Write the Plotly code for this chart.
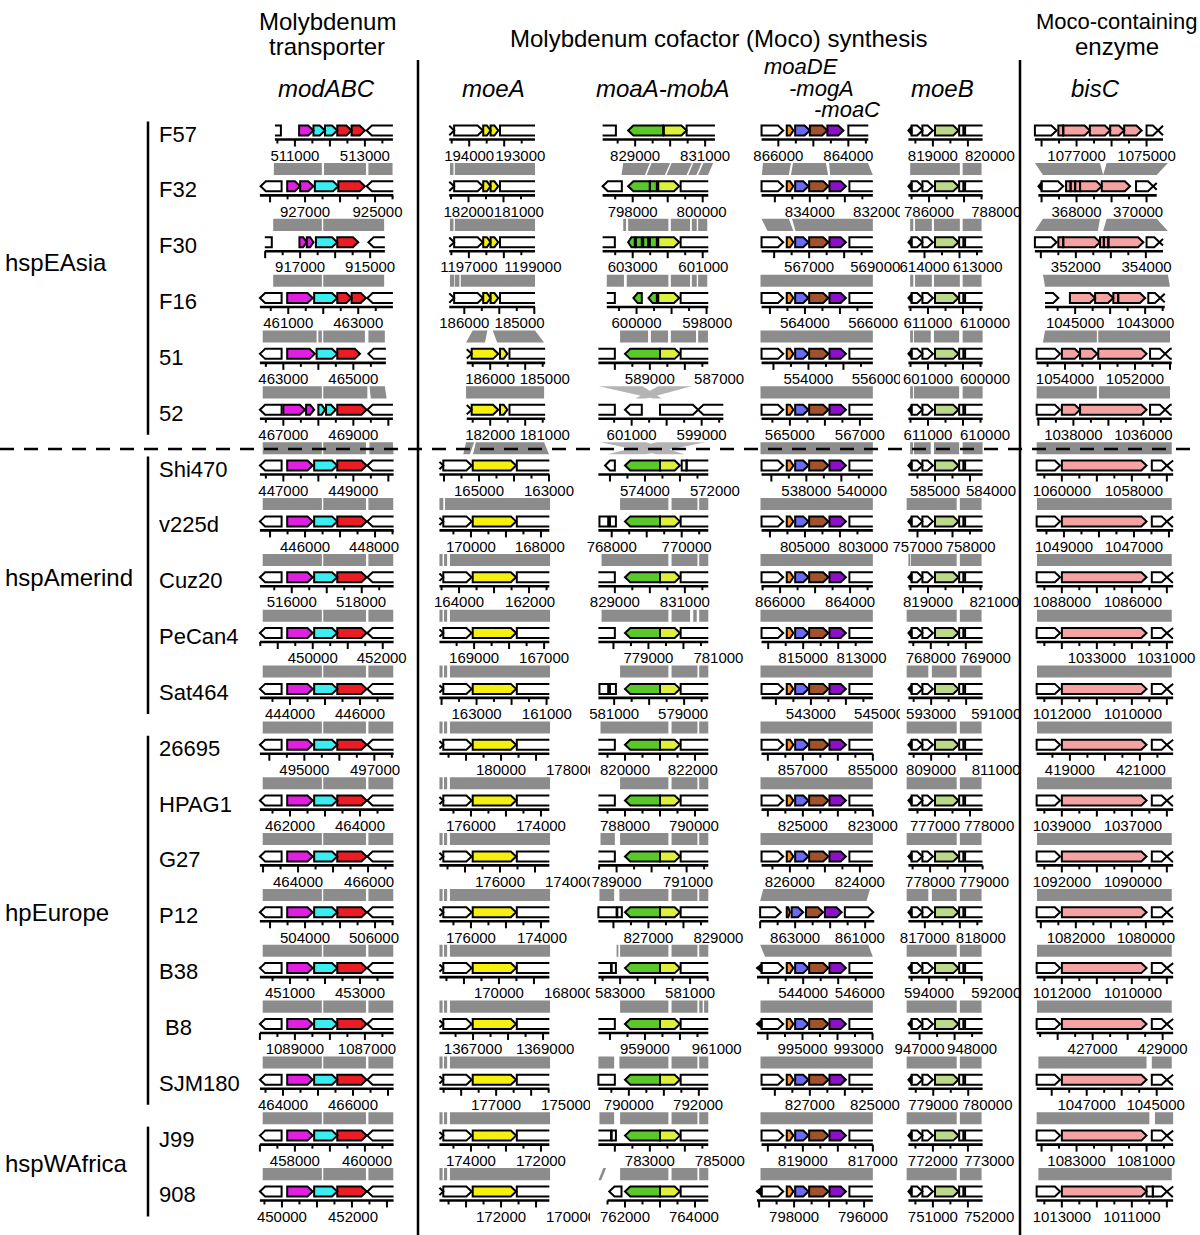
import math
import plotly.graph_objects as go

# ------------------------------------------------------------------ data
STRAINS = ["F57", "F32", "F30", "F16", "51", "52", "Shi470", "v225d", "Cuz20", "PeCan4",
           "Sat464", "26695", "HPAG1", "G27", "P12", "B38", "\u00a0B8", "SJM180", "J99", "908"]
GROUP_NAMES = ["hspEAsia", "hspAmerind", "hpEurope", "hspWAfrica"]
GROUP_ROWS = [(0, 5), (6, 10), (11, 17), (18, 19)]

GENE_COLORS = {'W': '#ffffff', 'M': '#e31ee3', 'C': '#3aeef0', 'R': '#ec1c24', 'Y': '#f5f00f',
               'G': '#5bc82a', 'L': '#dcf03c', 'O': '#f7941d', 'B': '#6a6af5', 'N': '#a0522d',
               'P': '#8c10c8', 'E': '#bcd88a', 'K': '#f4a2a2', 'X': '#000000'}

# genes: (start_kb, end_kb, strand, colour key), kb measured from each panel's left edge
# ---- modABC
MODABC_TPL = [(0.14, 0.76, -1, 'W'), (0.92, 1.65, 1, 'M'), (1.69, 2.35, 1, 'C'), (2.35, 3.19, 1, 'R'), (3.21, 4.5, -1, 'W')]
MODABC_GENES = [
    [(-0.5, 0.74, -1, 'W'), (1.26, 1.67, 1, 'M'), (1.67, 2.0, 1, 'C'), (2.0, 2.35, 1, 'C'), (2.35, 2.76, 1, 'R'), (2.76, 3.14, 1, 'R'), (3.19, 4.5, -1, 'W')],
    [(0.16, 0.76, -1, 'W'), (0.92, 1.29, 1, 'M'), (1.29, 1.67, 1, 'M'), (1.71, 2.38, 1, 'C'), (2.38, 3.14, 1, 'R'), (3.19, 4.5, -1, 'W')],
    [(-0.5, 0.48, -1, 'W'), (1.27, 1.48, 1, 'M'), (1.48, 1.67, 1, 'M'), (1.74, 2.35, 1, 'C'), (2.35, 2.95, 1, 'R'), (3.24, 4.5, -1, 'W')],
    [(0.14, 0.76, -1, 'W'), (0.92, 1.65, 1, 'M'), (1.69, 2.35, 1, 'C'), (2.35, 2.76, 1, 'R'), (2.76, 3.17, 1, 'R'), (3.21, 4.5, -1, 'W')],
    [(0.14, 0.76, -1, 'W'), (0.92, 1.71, 1, 'M'), (1.76, 2.35, 1, 'C'), (2.35, 3.0, 1, 'R'), (3.24, 4.5, -1, 'W')],
    [(0.14, 0.76, -1, 'W'), (0.81, 1.43, 1, 'M'), (1.46, 1.69, 1, 'M'), (1.81, 2.0, 1, 'C'), (2.03, 2.31, 1, 'C'), (2.35, 3.19, 1, 'R'), (3.21, 4.5, -1, 'W')],
] + [MODABC_TPL] * 14
MODABC_AXIS = [(0.57, 3.94), (0.14, 3.95), (0.28, 3.71), (0.14, 3.94), (0.14, 3.74), (0.14, 3.94)] + [(0.14, 3.96)] * 14
MODABC_LABELS = [(511000, 513000), (927000, 925000), (917000, 915000), (461000, 463000), (463000, 465000),
                 (467000, 469000), (447000, 449000), (446000, 448000), (516000, 518000), (450000, 452000),
                 (444000, 446000), (495000, 497000), (462000, 464000), (464000, 466000), (504000, 506000),
                 (451000, 453000), (1089000, 1087000), (464000, 466000), (458000, 460000), (450000, 452000)]
MODABC_LABPOS = [(1.14, 3.14), (1.43, 3.5), (1.29, 3.29), (0.95, 2.95), (0.81, 2.81), (0.81, 2.81), (0.81, 2.81),
                 (1.43, 3.4), (1.05, 3.03), (1.65, 3.62), (1.0, 3.0), (1.41, 3.43), (1.0, 3.0), (1.23, 3.26),
                 (1.43, 3.4), (1.0, 3.0), (1.14, 3.2), (0.8, 2.8), (1.14, 3.2), (0.77, 2.8)]
MODABC_BANDS = [
    [(0.54, 1.91), (1.97, 3.17), (3.24, 3.93)],
    [(0.52, 1.91), (1.95, 3.69)],
    [(0.52, 1.91), (1.95, 3.69)],
    [(0.22, 1.76), (1.81, 1.91), (1.95, 3.14), (3.24, 3.71)],
    [(0.22, 1.91), (1.95, 3.21), (3.27, 3.71, 3.31, 3.76)],
    [(0.22, 1.91), (1.95, 3.17), (3.27, 3.94, 3.27, 3.96)],
] + [[(0.22, 1.91), (1.95, 3.17), (3.24, 3.95)]] * 13

# ---- moeA
MOEA_EARLY = [(-0.5, 0.69, 1, 'W'), (0.69, 1.51, 1, 'W'), (1.52, 1.73, 1, 'Y'), (1.73, 1.95, 1, 'Y'), (2.0, 3.5, 1, 'W')]
MOEA_MID = [(0.5, 1.19, 1, 'W'), (1.19, 1.95, 1, 'Y'), (2.0, 2.21, 1, 'Y'), (2.27, 3.8, 1, 'W')]
MOEA_TPL = [(-0.5, 0.38, 1, 'W'), (0.38, 1.19, 1, 'W'), (1.22, 2.46, 1, 'Y'), (2.48, 4.0, 1, 'W')]
MOEA_GENES = [MOEA_EARLY] * 4 + [MOEA_MID] * 2 + [MOEA_TPL] * 14
MOEA_AXIS = [(0.55, 3.0)] * 4 + [(1.05, 3.29)] * 2 + [(0.27, 3.41)] * 14
MOEA_LABELS = [(194000, 193000), (182000, 181000), (1197000, 1199000), (186000, 185000), (186000, 185000),
               (182000, 181000), (165000, 163000), (170000, 168000), (164000, 162000), (169000, 167000),
               (163000, 161000), (180000, 178000), (176000, 174000), (176000, 174000), (176000, 174000),
               (170000, 168000), (1367000, 1369000), (177000, 175000), (174000, 172000), (172000, 170000)]
MOEA_LABPOS = [(1.12, 2.58), (1.1, 2.54), (1.11, 2.94), (0.98, 2.56), (1.72, 3.28), (1.72, 3.28), (1.4, 3.4),
               (1.17, 3.14), (0.83, 2.86), (1.26, 3.26), (1.33, 3.34), (2.03, 4.03), (1.17, 3.17), (2.0, 4.0),
               (1.17, 3.2), (1.97, 3.97), (1.23, 3.29), (1.89, 3.89), (1.17, 3.17), (2.03, 4.03)]
MOEA_BANDS = [
    [(0.57, 0.67), (0.71, 3.0)],
    [(0.57, 0.67), (0.71, 3.0)],
    [(0.57, 0.69), (0.71, 0.84), (0.88, 3.0)],
    [(1.22, 1.64, 1.03, 1.57), (1.79, 3.0, 1.92, 3.26)],
    [(1.03, 3.26)],
    [(1.03, 1.26, 0.95, 1.14), (1.31, 3.26, 1.23, 3.4)],
    [(0.27, 0.38), (0.43, 3.43)],
] + [[(0.27, 0.36), (0.4, 0.49), (0.57, 3.43)]] * 12

# ---- moaA-mobA
MOAA_CORE = [(1.0, 2.0, -1, 'G'), (2.0, 2.57, 1, 'L'), (2.59, 4.0, 1, 'W')]
MOAA_TPL = [(-0.5, 0.71, -1, 'W')] + MOAA_CORE
MOAA_GENES = [
    [(-0.5, 0.74, -1, 'W'), (1.09, 2.09, -1, 'G'), (2.11, 2.76, 1, 'L'), (2.76, 4.5, 1, 'W')],
    [(0.36, 0.91, -1, 'W'), (1.09, 1.71, -1, 'G'), (1.71, 1.91, 0, 'G'), (1.95, 2.55, 1, 'L'), (2.59, 4.0, 1, 'W')],
    [(-0.5, 0.71, -1, 'W'), (1.09, 1.28, -1, 'G'), (1.31, 1.48, 0, 'G'), (1.52, 1.66, 0, 'G'), (1.71, 1.91, 0, 'G'), (1.95, 2.55, 1, 'L'), (2.59, 4.0, 1, 'W')],
    [(-0.5, 0.71, -1, 'W'), (1.24, 1.48, -1, 'G'), (1.67, 1.91, -1, 'G'), (1.95, 2.55, 1, 'L'), (2.59, 4.0, 1, 'W')],
    MOAA_TPL,
    [(-0.5, 0.71, -1, 'W'), (1.0, 1.48, -1, 'W'), (2.0, 3.09, 1, 'W'), (3.09, 4.5, -1, 'W')],
    [(0.43, 0.71, -1, 'W'), (1.0, 2.0, -1, 'G'), (2.0, 2.57, 1, 'L'), (2.62, 2.76, 0, 'W'), (2.76, 4.0, 1, 'W')],
    [(0.27, 0.52, 0, 'W'), (0.57, 0.74, 0, 'W')] + MOAA_CORE,
    MOAA_TPL,
    MOAA_TPL,
    [(0.27, 0.52, 0, 'W'), (0.57, 0.74, 0, 'W')] + MOAA_CORE,
    MOAA_TPL,
    MOAA_TPL,
    MOAA_TPL,
    [(0.24, 0.76, 0, 'W'), (0.78, 0.91, 0, 'W')] + MOAA_CORE,
    [(-0.5, 0.6, -1, 'W'), (0.62, 0.74, 0, 'W')] + MOAA_CORE,
    MOAA_TPL,
    [(0.24, 0.71, 0, 'W')] + MOAA_CORE,
    [(-0.5, 0.6, -1, 'W'), (0.62, 0.74, 0, 'W')] + MOAA_CORE,
    [(0.55, 0.9, -1, 'W')] + MOAA_CORE,
]
MOAA_AXIS = [(0.36, 3.57), (0.36, 3.38), (0.36, 3.38), (0.48, 3.38), (0.24, 3.38), (0.24, 3.81)] + [(0.24, 3.38)] * 13 + [(0.5, 3.38)]
MOAA_LABELS = [(829000, 831000), (798000, 800000), (603000, 601000), (600000, 598000), (589000, 587000),
               (601000, 599000), (574000, 572000), (768000, 770000), (829000, 831000), (779000, 781000),
               (581000, 579000), (820000, 822000), (788000, 790000), (789000, 791000), (827000, 829000),
               (583000, 581000), (959000, 961000), (790000, 792000), (783000, 785000), (762000, 764000)]
MOAA_LABPOS = [(1.29, 3.29), (1.22, 3.19), (1.22, 3.24), (1.33, 3.35), (1.71, 3.69), (1.19, 3.19), (1.57, 3.57),
               (0.62, 2.76), (0.71, 2.71), (1.67, 3.67), (0.69, 2.66), (1.0, 2.94), (1.0, 2.97), (0.76, 2.8),
               (1.67, 3.67), (0.86, 2.86), (1.57, 3.62), (1.11, 3.09), (1.71, 3.71), (1.0, 2.97)]
# 4-tuples: (top start, top end, bottom start, bottom end); 5th item 'x' marks a crossing (inverted) link
MOAA_BANDS = [
    [(0.95, 1.71, 0.9, 1.57), (1.76, 2.29, 1.62, 2.14), (2.33, 2.91, 2.19, 2.76), (2.95, 3.19, 2.81, 3.04), (3.24, 3.52, 3.09, 3.37)],
    [(0.95, 1.03), (1.09, 2.24), (2.31, 2.86), (2.91, 3.05), (3.09, 3.35)],
    [(0.48, 0.97), (1.05, 2.24), (2.31, 2.86), (2.91, 3.05), (3.09, 3.35)],
    [(0.86, 1.66), (1.74, 2.23), (2.31, 3.03), (3.09, 3.37)],
    [(0.25, 1.5, 1.8, 2.05, 'x'), (1.95, 2.9, 1.3, 1.6, 'x')],
    [(0.3, 1.6, 1.9, 2.7, 'x'), (1.9, 3.3, 0.5, 1.6, 'x')],
    [(0.86, 2.24), (2.33, 3.07), (3.12, 3.38)],
    [(0.33, 2.24), (2.33, 3.07), (3.12, 3.38)],
    [(0.33, 2.24), (2.33, 2.86), (2.95, 3.05), (3.12, 3.38)],
    [(0.86, 2.24), (2.33, 3.07), (3.12, 3.38)],
    [(0.3, 2.24), (2.33, 3.07), (3.12, 3.38)],
    [(0.86, 2.24), (2.33, 3.07), (3.12, 3.38)],
    [(0.3, 0.71), (0.86, 2.24), (2.33, 3.07), (3.12, 3.38)],
    [(0.27, 0.69), (0.84, 2.24), (2.33, 3.07), (3.12, 3.38)],
    [(0.76, 0.81), (0.86, 2.24), (2.33, 3.07), (3.12, 3.38)],
    [(0.86, 2.24), (2.33, 3.07), (3.12, 3.22), (3.26, 3.38)],
    [(0.24, 0.69), (0.84, 2.24), (2.33, 3.07), (3.12, 3.38)],
    [(0.27, 0.69), (0.86, 2.24), (2.33, 3.07), (3.12, 3.38)],
    [(0.38, 0.46, 0.24, 0.32), (0.86, 2.24), (2.33, 3.07), (3.12, 3.38)],
]

# ---- moaDE-mogA-moaC
MOAD_TPL = [(0.33, 0.95, 1, 'W'), (1.05, 1.24, 1, 'O'), (1.29, 1.67, 1, 'B'), (1.69, 2.24, 1, 'N'), (2.27, 2.74, 1, 'P'), (2.84, 4.0, 1, 'W')]
MOAD_TIP = [(0.2, 0.33, -1, 'X')]
MOAD_GENES = [
    [(0.33, 0.95, 1, 'W'), (1.05, 1.24, 1, 'O'), (1.29, 1.71, 1, 'B'), (1.71, 2.21, 1, 'N'), (2.21, 2.67, 1, 'P'), (2.81, 4.0, 1, 'W')],
] + [MOAD_TPL] * 13 + [
    [(0.29, 0.88, 1, 'W'), (1.05, 1.14, 1, 'O'), (1.19, 1.52, 1, 'B'), (1.6, 2.09, 1, 'N'), (2.14, 2.62, 1, 'P'), (2.71, 3.52, 1, 'W')],
    MOAD_TIP + MOAD_TPL, MOAD_TIP + MOAD_TPL, MOAD_TPL, MOAD_TPL, MOAD_TIP + MOAD_TPL,
]
MOAD_AXIS = [(0.33, 3.38)] + [(0.33, 3.51)] * 13 + [(0.29, 3.55), (0.2, 3.51), (0.2, 3.51), (0.33, 3.51), (0.33, 3.51), (0.2, 3.51)]
MOAD_LABELS = [(866000, 864000), (834000, 832000), (567000, 569000), (564000, 566000), (554000, 556000),
               (565000, 567000), (538000, 540000), (805000, 803000), (866000, 864000), (815000, 813000),
               (543000, 545000), (857000, 855000), (825000, 823000), (826000, 824000), (863000, 861000),
               (544000, 546000), (995000, 993000), (827000, 825000), (819000, 817000), (798000, 796000)]
MOAD_LABPOS = [(0.81, 2.81), (1.71, 3.66), (1.69, 3.58), (1.57, 3.52), (1.67, 3.62), (1.14, 3.14), (1.61, 3.2),
               (1.57, 3.24), (0.86, 2.86), (1.52, 3.19), (1.74, 3.69), (1.51, 3.51), (1.51, 3.51), (1.14, 3.14),
               (1.29, 3.14), (1.52, 3.14), (1.5, 3.1), (1.71, 3.57), (1.51, 3.51), (1.26, 3.23)]
MOAD_BANDS = [
    [(0.37, 1.17, 0.34, 1.11), (1.23, 2.17, 1.17, 2.23), (2.26, 3.37, 2.29, 3.51)],
    [(0.33, 1.11, 0.5, 1.24), (1.2, 3.51, 1.3, 3.51)],
] + [[(0.3, 3.51)]] * 11 + [
    [(0.38, 3.43, 0.29, 3.33)],
    [(0.29, 3.38, 0.43, 3.51)],
] + [[(0.3, 3.51)]] * 4

# ---- moeB
MOEB_TPL = [(0.24, 0.33, -1, 'X'), (0.33, 0.64, 1, 'W'), (0.64, 0.94, 1, 'W'), (1.0, 1.67, 1, 'E'), (1.69, 1.81, 0, 'W'), (1.86, 3.0, 1, 'W')]
MOEB_GENES = [MOEB_TPL] * 20
MOEB_AXIS = [(0.24, 2.36)] * 20
MOEB_LABELS = [(819000, 820000), (786000, 788000), (614000, 613000), (611000, 610000), (601000, 600000),
               (611000, 610000), (585000, 584000), (757000, 758000), (819000, 821000), (768000, 769000),
               (593000, 591000), (809000, 811000), (777000, 778000), (778000, 779000), (817000, 818000),
               (594000, 592000), (947000, 948000), (779000, 780000), (772000, 773000), (751000, 752000)]
MOEB_LABPOS = [(0.94, 2.57), (0.83, 2.75), (0.7, 2.22), (0.8, 2.43), (0.8, 2.43), (0.8, 2.43), (1.0, 2.6),
               (0.5, 2.02), (0.8, 2.7), (0.88, 2.45), (0.89, 2.75), (0.89, 2.75), (1.0, 2.55), (0.86, 2.4),
               (0.71, 2.31), (0.83, 2.75), (0.56, 2.06), (0.95, 2.5), (0.94, 2.55), (0.94, 2.55)]
MOEB_BANDS = [
    [(0.29, 1.71), (1.79, 2.33)],
    [(0.29, 0.38), (0.43, 0.91), (0.97, 1.71), (1.79, 2.33)],
    [(0.29, 0.38), (0.43, 0.91), (0.97, 1.71), (1.79, 2.33)],
    [(0.29, 0.37), (0.4, 0.88), (0.97, 1.69), (1.79, 2.36)],
    [(0.29, 0.37), (0.4, 1.69), (1.79, 2.36)],
    [(0.29, 0.37), (0.4, 0.88), (0.97, 1.69), (1.79, 2.36)],
    [(0.19, 1.62), (1.71, 2.33)],
    [(0.24, 0.29), (0.31, 1.62), (1.71, 2.33)],
    [(0.19, 1.62), (1.71, 2.33)],
    [(0.19, 0.81), (0.91, 1.62), (1.71, 2.33)],
    [(0.19, 1.62), (1.71, 2.33)],
    [(0.19, 1.62), (1.71, 2.33)],
    [(0.19, 1.62), (1.71, 2.33)],
    [(0.19, 0.81), (0.91, 1.62), (1.71, 2.33)],
] + [[(0.19, 1.62), (1.71, 2.33)]] * 5

# ---- bisC
BISC_TPL = [(0.19, 0.86, 1, 'W'), (0.91, 3.33, 1, 'K'), (3.48, 3.91, 1, 'W'), (3.91, 4.5, -1, 'W')]
BISC_GENES = [
    [(0.14, 0.76, 1, 'W'), (0.81, 0.95, 0, 'K'), (0.95, 1.71, 1, 'K'), (1.71, 2.29, 1, 'K'), (2.29, 2.69, 1, 'K'), (2.69, 3.19, 1, 'K'), (3.33, 3.66, 1, 'W'), (3.66, 4.5, -1, 'W')],
    [(0.24, 0.33, -1, 'X'), (0.33, 0.95, 1, 'W'), (1.03, 1.16, 0, 'K'), (1.16, 1.29, 0, 'K'), (1.29, 1.43, 0, 'K'), (1.43, 2.05, 1, 'K'), (2.05, 2.86, 1, 'K'), (3.03, 3.52, 1, 'W'), (3.52, 4.5, -1, 'W')],
    [(0.14, 0.76, 1, 'W'), (0.81, 0.95, 0, 'K'), (0.95, 2.0, 1, 'K'), (2.0, 2.11, 0, 'K'), (2.11, 2.24, 0, 'K'), (2.24, 3.24, 1, 'K'), (3.33, 3.7, 1, 'W'), (3.7, 4.5, -1, 'W')],
    [(-0.5, 0.81, 1, 'W'), (1.14, 1.86, 1, 'K'), (1.86, 2.38, 1, 'K'), (2.38, 2.52, 0, 'K'), (2.52, 3.29, 1, 'K'), (3.38, 3.72, 1, 'W'), (3.72, 4.5, -1, 'W')],
    [(0.19, 0.86, 1, 'W'), (0.91, 1.43, 1, 'K'), (1.43, 1.92, 1, 'K'), (1.95, 3.33, 1, 'K'), (3.43, 3.86, 1, 'W'), (3.86, 4.5, -1, 'W')],
    [(0.19, 0.86, 1, 'W'), (0.91, 1.43, 1, 'K'), (1.43, 3.33, 1, 'K'), (3.43, 3.86, 1, 'W'), (3.86, 4.5, -1, 'W')],
] + [BISC_TPL] * 13 + [
    [(0.19, 0.86, 1, 'W'), (0.91, 3.33, 1, 'K'), (3.33, 3.51, 0, 'W'), (3.51, 3.91, 1, 'W'), (3.91, 4.5, -1, 'W')],
]
BISC_AXIS = [(0.14, 3.8), (0.24, 3.62), (0.14, 3.8), (0.43, 3.85), (0.19, 4.05), (0.19, 4.05)] + [(0.19, 4.09)] * 14
BISC_LABELS = [(1077000, 1075000), (368000, 370000), (352000, 354000), (1045000, 1043000), (1054000, 1052000),
               (1038000, 1036000), (1060000, 1058000), (1049000, 1047000), (1088000, 1086000), (1033000, 1031000),
               (1012000, 1010000), (419000, 421000), (1039000, 1037000), (1092000, 1090000), (1082000, 1080000),
               (1012000, 1010000), (427000, 429000), (1047000, 1045000), (1083000, 1081000), (1013000, 1011000)]
BISC_LABPOS = [(1.33, 3.33), (1.33, 3.09), (1.31, 3.33), (1.29, 3.29), (1.0, 3.0), (1.24, 3.24), (0.91, 2.97),
               (0.97, 2.97), (0.91, 2.94), (1.91, 3.89), (0.91, 2.94), (1.14, 3.17), (0.91, 2.94), (0.91, 2.94),
               (1.31, 3.31), (0.91, 2.94), (1.79, 3.79), (1.62, 3.59), (1.33, 3.31), (0.91, 2.91)]
BISC_BANDS = [
    [(0.14, 2.0, 0.37, 2.09), (2.19, 3.94, 2.09, 3.62)],
    [(0.37, 2.0, 0.14, 1.94), (2.19, 3.62, 2.09, 3.94)],
    [(0.37, 3.94, 0.43, 4.0)],
    [(0.43, 1.91, 0.37, 1.91), (1.95, 4.0)],
    [(0.19, 1.91), (1.97, 4.0)],
    [(0.19, 4.05)],
] + [[(0.2, 4.05)]] * 10 + [
    [(0.24, 3.33), (3.48, 4.05)],
    [(0.19, 3.41), (3.57, 4.09)],
    [(0.24, 4.05)],
]

COLUMNS = [
    (MODABC_GENES, MODABC_AXIS, MODABC_LABELS, MODABC_LABPOS, MODABC_BANDS),
    (MOEA_GENES, MOEA_AXIS, MOEA_LABELS, MOEA_LABPOS, MOEA_BANDS),
    (MOAA_GENES, MOAA_AXIS, MOAA_LABELS, MOAA_LABPOS, MOAA_BANDS),
    (MOAD_GENES, MOAD_AXIS, MOAD_LABELS, MOAD_LABPOS, MOAD_BANDS),
    (MOEB_GENES, MOEB_AXIS, MOEB_LABELS, MOEB_LABPOS, MOEB_BANDS),
    (BISC_GENES, BISC_AXIS, BISC_LABELS, BISC_LABPOS, BISC_BANDS),
]

# ------------------------------------------------------------------ layout constants
FIG_W, FIG_H = 1200, 1235
PX_PER_KB = 35.0
ROW0_PX, ROW_PX = 130.5, 55.84
COL_LEFT_PX = [255, 430, 590, 750, 900, 1030]
COL_W_PX = 170
NROWS = len(STRAINS)
FONT = "Liberation Sans, Arial, Helvetica, sans-serif"
BAND_GREY = '#8c8c8c'
CROSS_GREY = '#b4b4b4'


def ry(px):  # pixel offset -> row units
    return px / ROW_PX


HH = ry(5.0)
HEAD = 0.15
TOL = 0.06
BASE_DY = ry(9.0)
TICK_MAJ = ry(7.0)
TICK_MIN = ry(4.0)
LAB_DY = ry(26.5)
BAND_TOP = ry(32.5)
BAND_BOT = ry(11.3)


def gene_poly(s, e, strand, ck):
    L = e - s
    if ck == 'X':
        h = HH * 0.75
        if strand >= 0:
            return [(s, -h), (e, 0.0), (s, h)]
        return [(e, -h), (s, 0.0), (e, h)]
    h = min(HEAD, L * 0.5)
    if strand > 0:
        return [(s, -HH), (e - h, -HH), (e, 0.0), (e - h, HH), (s, HH)]
    if strand < 0:
        return [(s, 0.0), (s + h, -HH), (e, -HH), (e, HH), (s + h, HH)]
    return [(s, -HH), (e, -HH), (e, HH), (s, HH)]


def _inter(p, q, xc):
    t = (xc - p[0]) / (q[0] - p[0])
    return (xc, p[1] + t * (q[1] - p[1]))


def _clip_side(pts, keep, xc):
    out = []
    n = len(pts)
    for i in range(n):
        p, q = pts[i - 1], pts[i]
        pin, qin = keep(p), keep(q)
        if qin:
            if not pin:
                out.append(_inter(p, q, xc))
            out.append(q)
        elif pin:
            out.append(_inter(p, q, xc))
    return out


def clip_poly(pts, lo, hi):
    if lo is not None:
        pts = _clip_side(pts, lambda p: p[0] >= lo, lo)
    if hi is not None and pts:
        pts = _clip_side(pts, lambda p: p[0] <= hi, hi)
    ded = []
    for p in pts:
        if not ded or abs(p[0] - ded[-1][0]) > 1e-9 or abs(p[1] - ded[-1][1]) > 1e-9:
            ded.append(p)
    if len(ded) > 1 and abs(ded[0][0] - ded[-1][0]) < 1e-9 and abs(ded[0][1] - ded[-1][1]) < 1e-9:
        ded.pop()
    return ded


def outline_paths(pts, lo, hi):
    n = len(pts)

    def skip(i):
        p, q = pts[i], pts[(i + 1) % n]
        for c in (lo, hi):
            if c is not None and abs(p[0] - c) < 1e-9 and abs(q[0] - c) < 1e-9:
                return True
        return False

    skips = [i for i in range(n) if skip(i)]
    if not skips:
        mid = ((pts[0][0] + pts[1][0]) / 2, (pts[0][1] + pts[1][1]) / 2)
        return [[mid] + pts[1:] + [pts[0], mid]]
    paths = []
    start = (skips[0] + 1) % n
    cur = [pts[start]]
    for k in range(n):
        i = (start + k) % n
        if skip(i):
            if len(cur) > 1:
                paths.append(cur)
            cur = [pts[(i + 1) % n]]
        else:
            cur.append(pts[(i + 1) % n])
    if len(cur) > 1:
        paths.append(cur)
    return paths


fig = go.Figure()
layout_axes = {}

for ci, (genes, axes, labels, labpos, bands) in enumerate(COLUMNS):
    xa = 'x' if ci == 0 else 'x%d' % (ci + 1)
    axname = 'xaxis' if ci == 0 else 'xaxis%d' % (ci + 1)
    layout_axes[axname] = dict(domain=[COL_LEFT_PX[ci] / FIG_W, (COL_LEFT_PX[ci] + COL_W_PX) / FIG_W],
                               range=[0, COL_W_PX / PX_PER_KB], visible=False, anchor='y', fixedrange=True)
    fills = {}
    ox, oy = [], []
    bx, by = [], []
    tx, ty = [], []
    lx, lyy, lt = [], [], []
    gx, gy = [], []
    cx, cy = [], []

    # synteny bands
    for r, blist in enumerate(bands):
        yt = r + BAND_TOP
        yb = r + 1 - BAND_BOT
        for b in blist:
            if len(b) == 2:
                ta, tb, ba, bb = b[0], b[1], b[0], b[1]
            else:
                ta, tb, ba, bb = b[:4]
            if len(b) == 5:
                cx += [ta, tb, bb, ba, None]
                cy += [yt, yt, yb, yb, None]
            else:
                gx += [ta, tb, bb, ba, None]
                gy += [yt, yt, yb, yb, None]

    for r in range(NROWS):
        a0, a1 = axes[r]
        for (s, e, strand, ck) in genes[r]:
            lo = a0 if s < a0 - TOL else None
            hi = a1 if e > a1 + TOL else None
            pts = clip_poly(gene_poly(s, e, strand, ck), lo, hi)
            if len(pts) < 3:
                continue
            pts = [(x, r + y) for x, y in pts]
            fxs, fys = fills.setdefault(ck, ([], []))
            fxs += [p[0] for p in pts] + [pts[0][0], None]
            fys += [p[1] for p in pts] + [pts[0][1], None]
            for path in outline_paths(pts, lo, hi):
                ox += [p[0] for p in path] + [None]
                oy += [p[1] for p in path] + [None]
        # baseline
        yb = r + BASE_DY
        bx += [a0, a1, None]
        by += [yb, yb, None]
        # ticks every 500 bp, longer at whole kb
        p1, p2 = labpos[r]
        kmin = math.ceil((a0 - p1) / 0.5 - 1e-6)
        kmax = math.floor((a1 - p1) / 0.5 + 1e-6)
        for k in range(kmin, kmax + 1):
            xt = p1 + 0.5 * k
            tl = TICK_MAJ if k % 2 == 0 else TICK_MIN
            tx += [xt, xt, None]
            ty += [yb, yb + tl, None]
        # labels
        for v, p in zip(labels[r], labpos[r]):
            lx.append(p)
            lyy.append(r + LAB_DY)
            lt.append(str(v))

    if cx:
        fig.add_trace(go.Scatter(x=cx, y=cy, xaxis=xa, yaxis='y', mode='none', fill='toself',
                                 fillcolor=CROSS_GREY, hoverinfo='skip'))
    fig.add_trace(go.Scatter(x=gx, y=gy, xaxis=xa, yaxis='y', mode='none', fill='toself',
                             fillcolor=BAND_GREY, hoverinfo='skip'))
    for ck, (fxs, fys) in fills.items():
        fig.add_trace(go.Scatter(x=fxs, y=fys, xaxis=xa, yaxis='y', mode='none', fill='toself',
                                 fillcolor=GENE_COLORS[ck], hoverinfo='skip'))
    fig.add_trace(go.Scatter(x=ox, y=oy, xaxis=xa, yaxis='y', mode='lines',
                             line=dict(color='black', width=2), hoverinfo='skip'))
    fig.add_trace(go.Scatter(x=bx, y=by, xaxis=xa, yaxis='y', mode='lines',
                             line=dict(color='black', width=2.6), hoverinfo='skip'))
    fig.add_trace(go.Scatter(x=tx, y=ty, xaxis=xa, yaxis='y', mode='lines',
                             line=dict(color='black', width=2), hoverinfo='skip'))
    fig.add_trace(go.Scatter(x=lx, y=lyy, text=lt, xaxis=xa, yaxis='y', mode='text',
                             textposition='middle center', cliponaxis=False,
                             textfont=dict(family=FONT, size=15, color='black'), hoverinfo='skip'))

annotations = []
# strain names
for r, name in enumerate(STRAINS):
    annotations.append(dict(x=157 / FIG_W, xref='paper', y=r + ry(3.5), yref='y', text=name,
                            showarrow=False, xanchor='left', yanchor='middle',
                            font=dict(family=FONT, size=22, color='black')))
# groups
shapes = []
for gname, (r0, r1) in zip(GROUP_NAMES, GROUP_ROWS):
    ymid = (r0 + r1) / 2 - (ry(8) if r0 == 0 else 0)
    annotations.append(dict(x=3 / FIG_W, xref='paper', y=ymid, yref='y', text=gname, showarrow=False,
                            xanchor='left', yanchor='middle', font=dict(family=FONT, size=24, color='black')))
    shapes.append(dict(type='line', xref='paper', yref='y', x0=148 / FIG_W, x1=148 / FIG_W,
                       y0=r0 - ry(9), y1=r1 + ry(25), line=dict(color='black', width=2.5)))

HEADERS = [
    ("Molybdenum", 327, 21, False, 24), ("transporter", 327, 47, False, 24),
    ("Molybdenum cofactor (Moco) synthesis", 719, 38, False, 24),
    ("Moco-containing", 1116, 21, False, 22), ("enzyme", 1117, 47, False, 24),
    ("modABC", 326, 88, True, 24), ("moeA", 493, 88, True, 24), ("moaA-mobA", 662, 88, True, 24),
    ("moaDE", 801, 66, True, 22), ("-mogA", 821, 88, True, 22), ("-moaC", 847, 110, True, 22),
    ("moeB", 942, 88, True, 24), ("bisC", 1095, 88, True, 24),
]
for txt, xpx, ypx, it, fs in HEADERS:
    annotations.append(dict(x=xpx / FIG_W, xref='paper', y=1 - ypx / FIG_H, yref='paper',
                            text=('<i>%s</i>' % txt) if it else txt, showarrow=False,
                            xanchor='center', yanchor='middle',
                            font=dict(family=FONT, size=fs, color='black')))

for xs in (418, 1020):
    shapes.append(dict(type='line', xref='paper', yref='paper', x0=xs / FIG_W, x1=xs / FIG_W,
                       y0=1 - 60 / FIG_H, y1=0, line=dict(color='black', width=2.5)))
shapes.append(dict(type='line', xref='paper', yref='paper', x0=0, x1=1, y0=1 - 449 / FIG_H, y1=1 - 449 / FIG_H,
                   line=dict(color='black', width=2.5, dash='14px,10px')))

fig.update_layout(
    width=FIG_W, height=FIG_H, margin=dict(l=0, r=0, t=0, b=0, pad=0),
    paper_bgcolor='white', plot_bgcolor='white', showlegend=False,
    yaxis=dict(domain=[0, 1], range=[(FIG_H - ROW0_PX) / ROW_PX, -ROW0_PX / ROW_PX],
               visible=False, fixedrange=True),
    annotations=annotations, shapes=shapes,
    **layout_axes,
)
fig.write_html("out.html", config={'displayModeBar': False},
               post_script="document.body.style.margin='0';document.body.style.padding='0';"
                           "document.body.style.overflow='hidden';")
